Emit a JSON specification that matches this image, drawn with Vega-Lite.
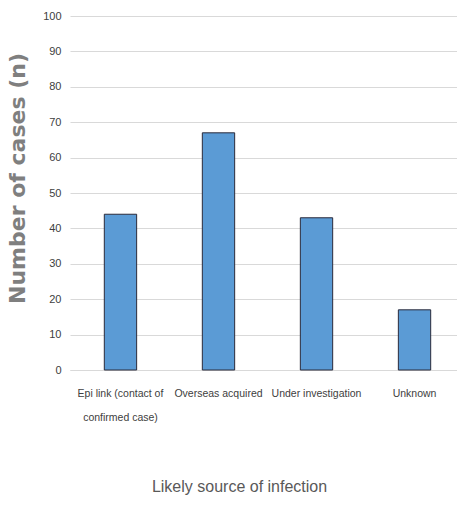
{
  "$schema": "https://vega.github.io/schema/vega-lite/v6.json",
  "width": 395,
  "height": 354,
  "autosize": {"type": "none"},
  "padding": {"left": 70, "top": 16, "right": 0, "bottom": 135},
  "background": "white",
  "data": {
    "values": [
      {"source": "Epi link (contact of confirmed case)", "cases": 44},
      {"source": "Overseas acquired", "cases": 67},
      {"source": "Under investigation", "cases": 43},
      {"source": "Unknown", "cases": 17}
    ]
  },
  "mark": {"type": "bar", "color": "#5B9BD5", "stroke": "#2a2a3a", "strokeWidth": 1},
  "encoding": {
    "x": {
      "field": "source",
      "type": "nominal",
      "sort": null,
      "scale": {"paddingInner": 0.67, "paddingOuter": 0.35},
      "axis": {
        "title": "Likely source of infection",
        "titleFont": "Liberation Sans, sans-serif",
        "titleFontSize": 16,
        "titleFontWeight": "normal",
        "titleColor": "#595959",
        "titlePadding": 56,
        "titleAnchor": "middle",
        "titleX": 169,
        "labelAngle": 0,
        "labelFont": "Liberation Sans, sans-serif",
        "labelFontSize": 10.5,
        "labelColor": "#404040",
        "labelPadding": 18,
        "labelLineHeight": 24,
        "labelLimit": 200,
        "labelExpr": "datum.label == 'Epi link (contact of confirmed case)' ? ['Epi link (contact of', 'confirmed case)'] : datum.label",
        "ticks": false,
        "domainColor": "#d9d9d9",
        "grid": false
      }
    },
    "y": {
      "field": "cases",
      "type": "quantitative",
      "scale": {"domain": [0, 100], "nice": false},
      "axis": {
        "title": "Number of cases (n)",
        "titleFont": "DejaVu Sans, Verdana, sans-serif",
        "titleFontSize": 22,
        "titleFontWeight": "bold",
        "titleColor": "#7f7f7f",
        "titlePadding": 13,
        "titleY": 162,
        "titleLetterSpacing": 2,
        "values": [0, 10, 20, 30, 40, 50, 60, 70, 80, 90, 100],
        "labelFont": "Liberation Sans, sans-serif",
        "labelFontSize": 11,
        "labelColor": "#404040",
        "labelPadding": 9,
        "ticks": false,
        "domain": false,
        "grid": true,
        "gridColor": "#d9d9d9"
      }
    }
  },
  "config": {"view": {"stroke": null}}
}
